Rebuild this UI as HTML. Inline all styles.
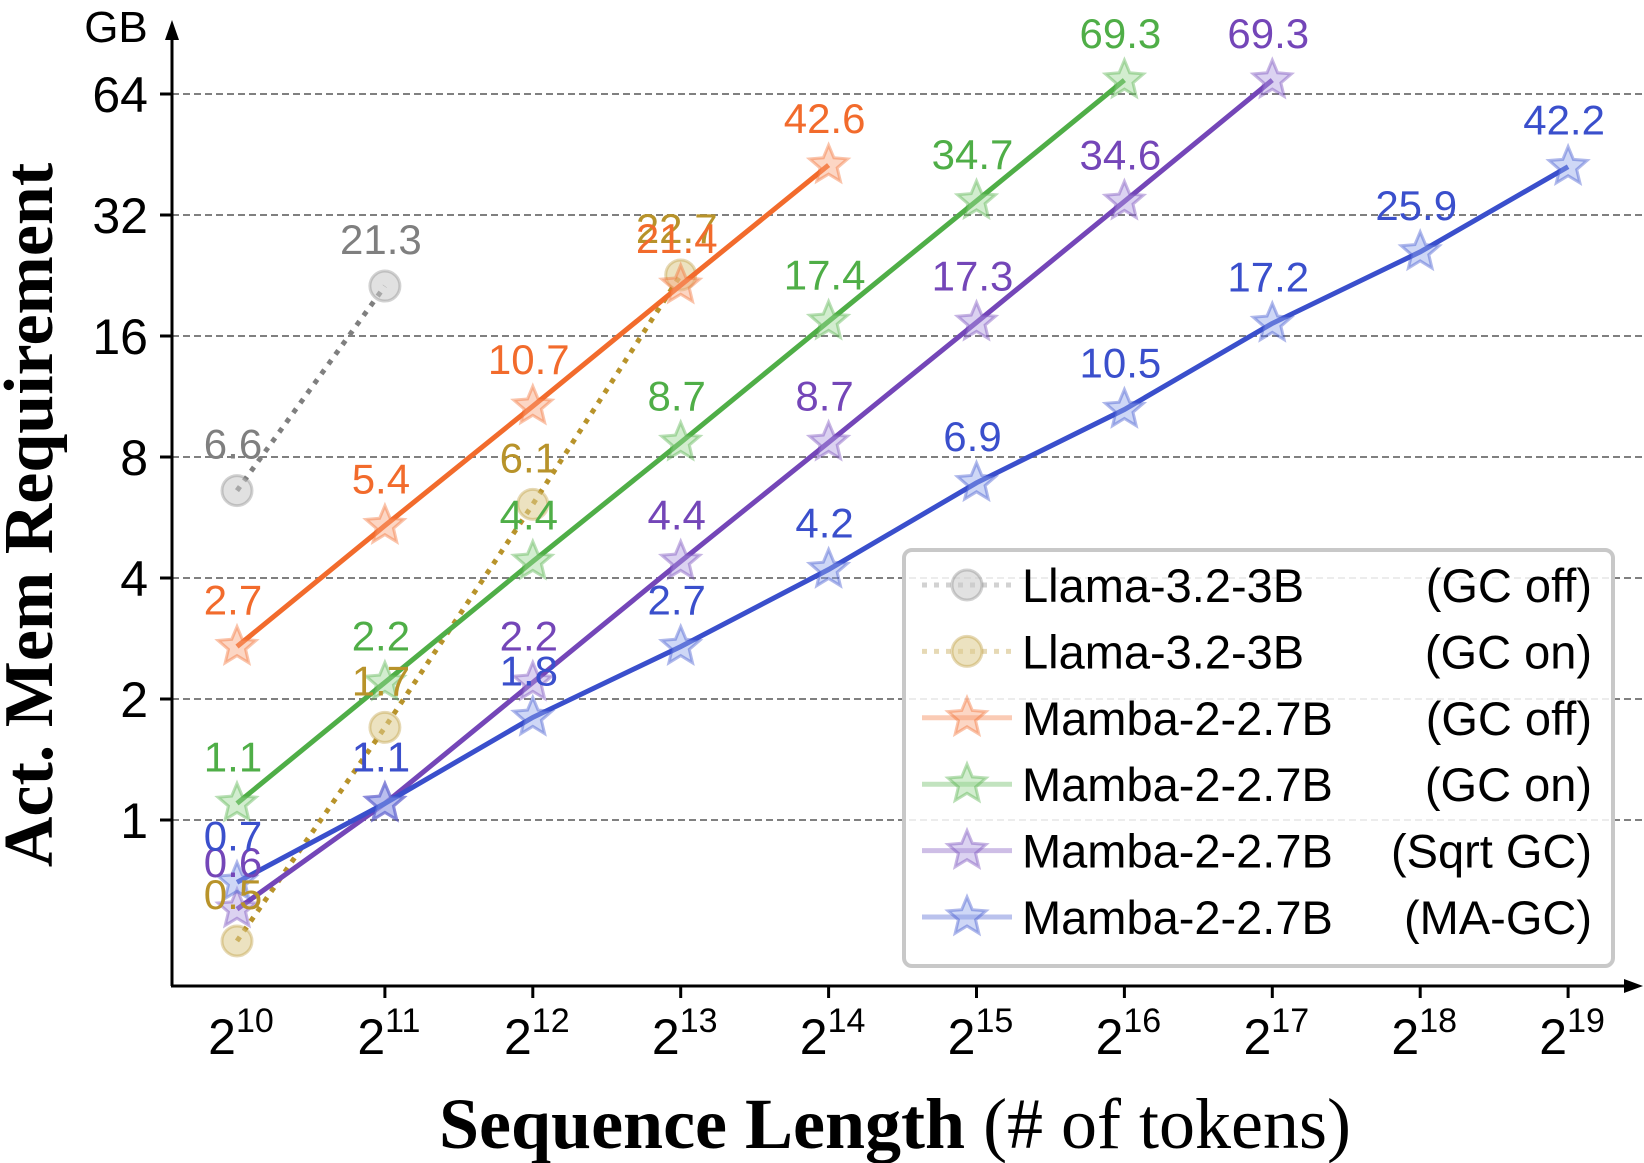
<!DOCTYPE html>
<html><head><meta charset="utf-8"><style>
html,body{margin:0;padding:0;background:#fff;}
svg{display:block;}
.sans{font-family:"Liberation Sans Narrow","Liberation Sans","DejaVu Sans",sans-serif;}
.serif{font-family:"Liberation Serif",serif;}
</style></head><body>
<svg id="chart" width="1644" height="1163" viewBox="0 0 1644 1163" xmlns="http://www.w3.org/2000/svg">
<g id="grid"></g>
<g id="axes"></g>
<g id="series"></g>
<g id="labels"></g>
<g id="legend"></g>
</svg>
<script>
const xExps = [10,11,12,13,14,15,16,17,18,19];
const yTicks = [1,2,4,8,16,32,64];
const llamaOff = [6.6, 21.3];
const llamaOn = [0.5, 1.7, 6.1, 22.7];
const mambaOff = [2.7, 5.4, 10.7, 21.4, 42.6];
const mambaOn = [1.1, 2.2, 4.4, 8.7, 17.4, 34.7, 69.3];
const mambaSqrt = [0.6, 1.1, 2.2, 4.4, 8.7, 17.3, 34.6, 69.3];
const mambaMA = [0.7, 1.1, 1.8, 2.7, 4.2, 6.9, 10.5, 17.2, 25.9, 42.2];
const seriesNames = ["Llama-3.2-3B","Llama-3.2-3B","Mamba-2-2.7B","Mamba-2-2.7B","Mamba-2-2.7B","Mamba-2-2.7B"];
const seriesTags = ["(GC off)","(GC on)","(GC off)","(GC on)","(Sqrt GC)","(MA-GC)"];

const NS="http://www.w3.org/2000/svg";
function xs(i){return 237+147.9*i;}
function ys(v){return 820-121*Math.log2(v);}
function mk(tag,attrs,parent){const e=document.createElementNS(NS,tag);for(const k in attrs)e.setAttribute(k,attrs[k]);parent.appendChild(e);return e;}
const grid=document.getElementById('grid'),axes=document.getElementById('axes'),ser=document.getElementById('series'),lab=document.getElementById('labels'),leg=document.getElementById('legend');

yTicks.forEach(v=>{
  const l=mk('line',{x1:172,x2:1644,y1:ys(v),y2:ys(v),stroke:'#808080','stroke-width':2,'stroke-dasharray':'7,4'},grid);
  
  
  const t=mk('line',{x1:160,x2:172,y1:ys(v),y2:ys(v),stroke:'#000','stroke-width':3},axes);
  
  
  const tx=mk('text',{x:148,y:ys(v)+18,'text-anchor':'end','font-size':50,fill:'#000',class:'sans'},axes);
  tx.textContent=v;
  
  
});
let a=mk('line',{x1:172,y1:986,x2:172,y2:35,stroke:'#000','stroke-width':3},axes);


a=mk('polygon',{points:'165,40 179,40 172,20',fill:'#000'},axes);


a=mk('line',{x1:171,y1:986,x2:1628,y2:986,stroke:'#000','stroke-width':3},axes);


a=mk('polygon',{points:'1624,979 1624,993 1643,986',fill:'#000'},axes);


a=mk('text',{x:116,y:42,'text-anchor':'middle','font-size':44,class:'sans'},axes);
a.textContent='GB';


xExps.forEach((e,i)=>{
  if(i>0){const t=mk('line',{x1:xs(i),x2:xs(i),y1:986,y2:998,stroke:'#000','stroke-width':3},axes);
  
  }
  const tx=mk('text',{x:xs(i)+4,y:1054,'text-anchor':'middle','font-size':50,class:'sans'},axes);
  tx.innerHTML='2<tspan font-size="34" dy="-22">'+e+'</tspan>';
  
  
});
a=mk('text',{x:30,y:515,'text-anchor':'middle','font-size':70,'font-weight':'bold',class:'serif',transform:'rotate(-90 30 515)'},axes);
a.setAttribute('dy','22');
a.textContent='Act. Mem Requirement';


a=mk('text',{x:895,y:1148,'text-anchor':'middle','font-size':72,class:'serif'},axes);
a.innerHTML='<tspan font-weight="bold">Sequence Length</tspan> (# of tokens)';



function starPts(cx,cy,R){const r=R*0.45;let p=[];for(let k=0;k<10;k++){const ang=-Math.PI/2+k*Math.PI/5;const rr=k%2?r:R;p.push((cx+rr*Math.cos(ang)).toFixed(1)+','+(cy+rr*Math.sin(ang)).toFixed(1));}return p.join(' ');}
function marker(kind,cx,cy,color,fill,parent){
  if(kind==='circle') return mk('circle',{cx:cx,cy:cy,r:15,fill:fill,stroke:color,'stroke-opacity':0.35,'stroke-width':3,'fill-opacity':0.55},parent);
  return mk('polygon',{points:starPts(cx,cy,20),fill:fill,'fill-opacity':0.45,stroke:color,'stroke-opacity':0.4,'stroke-width':3},parent);
}
const defs=[
 {d:llamaOff,c:'#7f7f7f',f:'#c8c8c8',k:'circle',dash:'5,7',n:'llama-gc-off'},
 {d:llamaOn,c:'#b8932a',f:'#dccb8c',k:'circle',dash:'5,7',n:'llama-gc-on'},
 {d:mambaOff,c:'#f26b2c',f:'#f8a47c',k:'star',dash:null,n:'mamba-gc-off'},
 {d:mambaOn,c:'#4fae47',f:'#9bd694',k:'star',dash:null,n:'mamba-gc-on'},
 {d:mambaSqrt,c:'#7446b8',f:'#b09be0',k:'star',dash:null,n:'mamba-sqrt-gc'},
 {d:mambaMA,c:'#3a4fcc',f:'#93a6ec',k:'star',dash:null,n:'mamba-ma-gc'}
];
defs.forEach(s=>{
  const g=mk('g',{},ser);
  
  
  const pts=s.d.map((v,i)=>xs(i).toFixed(1)+','+ys(v).toFixed(1)).join(' ');
  const pl=mk('polyline',{points:pts,fill:'none',stroke:s.c,'stroke-width':5,'stroke-dasharray':s.dash||'none'},g);
  
  
  s.d.forEach((v,i)=>{
    const m=marker(s.k,xs(i),ys(v),s.c,s.f,g);
    
    
    const t=mk('text',{x:xs(i)-4,y:ys(v)-32,'text-anchor':'middle','font-size':42,fill:s.c,class:'sans'},lab);
    t.textContent=v;
    
    
  });
});
let box=mk('rect',{x:904,y:550,width:709,height:416,rx:8,fill:'#fff','fill-opacity':0.85,stroke:'#c8c8c8','stroke-width':4},leg);


defs.forEach((s,j)=>{
  const y=585+66.4*j;
  const g=mk('g',{},leg);
  
  
  mk('line',{x1:922,x2:1012,y1:y,y2:y,stroke:s.c,'stroke-opacity':0.35,'stroke-width':5,'stroke-dasharray':s.dash||'none'},g);
  marker(s.k,967,y,s.c,s.f,g);
  const t1=mk('text',{x:1022,y:y+17,'font-size':47,class:'sans'},g);
  t1.textContent=seriesNames[j];
  const t2=mk('text',{x:1592,y:y+17,'font-size':47,'text-anchor':'end',class:'sans'},g);
  t2.textContent=seriesTags[j];
});
</script>
</body></html>
